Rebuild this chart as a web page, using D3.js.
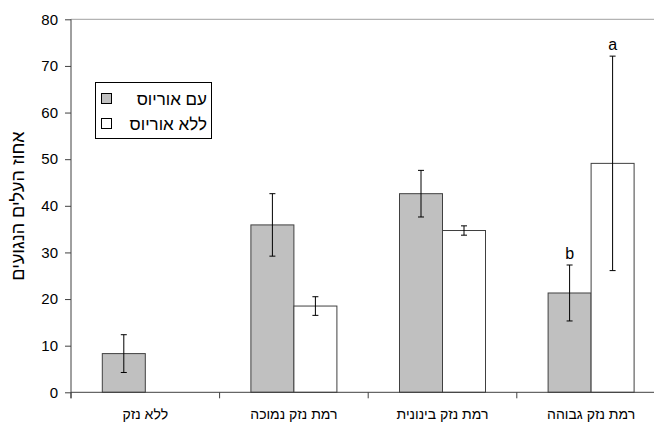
<!DOCTYPE html>
<html><head><meta charset="utf-8">
<script src="https://cdn.jsdelivr.net/npm/d3@7"></script>
<style>
body{margin:0;background:#fff;}
svg{display:block;font-family:"Liberation Sans",Arial,"DejaVu Sans",sans-serif;}
</style></head>
<body><svg id="c" width="654" height="425"></svg>
<script>
const categories = ["ללא נזק","רמת נזק נמוכה","רמת נזק בינונית","רמת נזק גבוהה"];
const seriesNames = ["עם אוריוס","ללא אוריוס"];
const withAurios = [8.3, 35.9, 42.6, 21.3];
const errWith = [4.05, 6.7, 5.0, 6.0];
const withoutAurios = [null, 18.5, 34.7, 49.1];
const errWithout = [null, 2.0, 1.0, 23.0];
const sigWith = [null, null, null, "b"];
const sigWithout = [null, null, null, "a"];
const yTicks = [0,10,20,30,40,50,60,70,80];
const yTitle = "אחוז העלים הנגועים";

(function(){
const svg = d3.select("#c");
const mLeft = 71, mTop = 19.3, mBottom = 392.3, catW = 148.6;
const x = d3.scaleBand().domain(categories).range([mLeft, mLeft + catW*categories.length]).padding(0);
const inner = d3.scaleBand().domain(seriesNames).range([(catW-86)/2, (catW+86)/2]).padding(0);
const y = d3.scaleLinear().domain([0,80]).range([mBottom, mTop]);
const fills = ["#c0c0c0", "#ffffff"];

svg.append("line").attr("x1", mLeft).attr("x2", 654).attr("y1", y(80)).attr("y2", y(80))
  .attr("stroke", "#a0a0a0").attr("stroke-width", 1);

const series = [
  {name: seriesNames[0], vals: withAurios, errs: errWith, sig: sigWith, fill: fills[0]},
  {name: seriesNames[1], vals: withoutAurios, errs: errWithout, sig: sigWithout, fill: fills[1]}
];

series.forEach(s => {
  const data = categories.map((c,i) => ({c, v: s.vals[i], e: s.errs[i], sig: s.sig[i]})).filter(d => d.v != null);
  const g = svg.append("g");
  g.selectAll("rect").data(data).join("rect")
    .attr("x", d => x(d.c) + inner(s.name))
    .attr("width", inner.bandwidth())
    .attr("y", d => y(d.v))
    .attr("height", d => y(0) - y(d.v))
    .attr("fill", s.fill).attr("stroke", "#404040").attr("stroke-width", 1);
  const cx = d => x(d.c) + inner(s.name) + inner.bandwidth()/2;
  g.selectAll("line.eb").data(data).join("line").attr("class","eb")
    .attr("x1", cx).attr("x2", cx)
    .attr("y1", d => y(d.v + d.e)).attr("y2", d => y(d.v - d.e))
    .attr("stroke", "#000").attr("stroke-width", 1);
  ["t","b"].forEach(k => {
    g.selectAll("line.cap" + k).data(data).join("line")
      .attr("class", "cap" + k)
      .attr("x1", d => cx(d) - 3).attr("x2", d => cx(d) + 3)
      .attr("y1", d => y(k=="t" ? d.v + d.e : d.v - d.e))
      .attr("y2", d => y(k=="t" ? d.v + d.e : d.v - d.e))
      .attr("stroke", "#000").attr("stroke-width", 1);
  });
  g.selectAll("text.sig").data(data.filter(d => d.sig)).join("text").attr("class","sig")
    .attr("x", cx).attr("y", d => y(d.v + d.e) - 6)
    .attr("text-anchor", "middle").attr("font-size", 16).attr("fill", "#000")
    .text(d => d.sig);
});

const yAxis = svg.append("g").attr("transform", `translate(${mLeft},0)`)
  .call(d3.axisLeft(y).tickValues(yTicks).tickSize(6).tickSizeOuter(0).tickPadding(7));
yAxis.select(".domain").attr("stroke", "#404040").attr("d", `M0,${y(80)}V${y(0)+6}`);
yAxis.selectAll(".tick line").attr("stroke", "#404040");
yAxis.selectAll(".tick text").attr("font-size", 15).attr("fill", "#000")
  .attr("font-family", '"Liberation Sans",Arial,sans-serif');

const xAxis = svg.append("g").attr("transform", `translate(0,${mBottom})`)
  .call(d3.axisBottom(x).tickSize(0).tickPadding(17));
xAxis.select(".domain").attr("stroke", "#404040").attr("d", `M${mLeft},0H${mLeft + catW*4}`);
xAxis.selectAll(".tick text").attr("font-size", 14).attr("fill", "#000")
  .attr("font-family", '"Liberation Sans",Arial,sans-serif');
xAxis.selectAll("line.bt").data(categories).join("line").attr("class","bt")
  .attr("x1", d => x(d)).attr("x2", d => x(d)).attr("y1", 0).attr("y2", 6)
  .attr("stroke", "#404040");

svg.append("text").attr("transform", `translate(24,206) rotate(-90)`)
  .attr("text-anchor", "middle").attr("font-size", 18).attr("fill", "#000").text(yTitle);

const lg = svg.append("g");
lg.append("rect").attr("x", 95.5).attr("y", 82.5).attr("width", 116).attr("height", 56)
  .attr("fill", "#fff").attr("stroke", "#000").attr("stroke-width", 1);
series.forEach((s,i) => {
  const cyy = 99 + i*25;
  lg.append("rect").attr("x", 101.5).attr("y", cyy - 5.5).attr("width", 10).attr("height", 10)
    .attr("fill", s.fill).attr("stroke", "#000").attr("stroke-width", 1);
  lg.append("text").attr("x", 207).attr("y", cyy + 6).attr("text-anchor", "end")
    .attr("font-size", 17).attr("fill", "#000").text(s.name);
});
})();
</script></body></html>
